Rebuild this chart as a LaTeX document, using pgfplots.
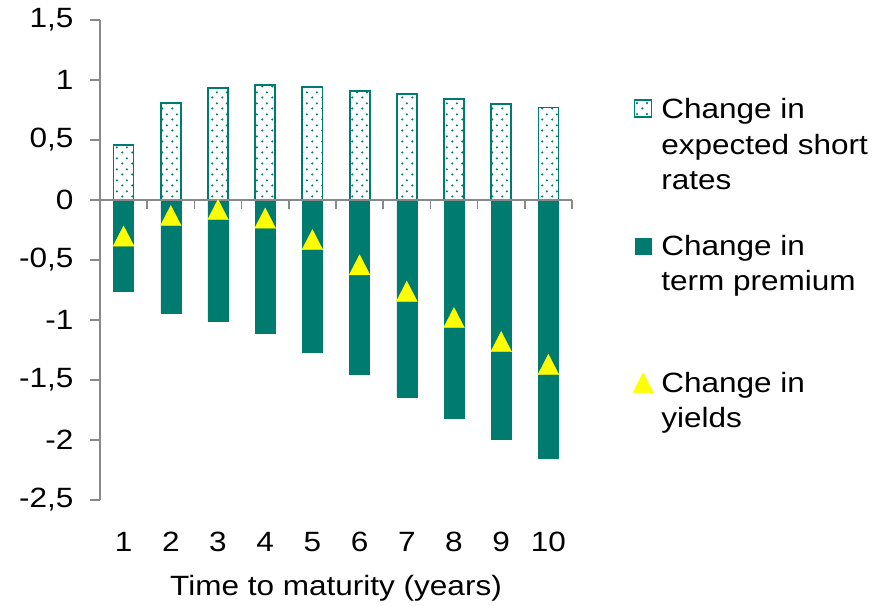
\documentclass[border=0pt]{standalone}
\usepackage{fontspec}
\setmainfont{Liberation Sans}[FakeStretch=1.13]
\usepackage{pgfplots}
\usepackage{pgfplotstable}
\pgfplotsset{compat=1.18}
\usetikzlibrary{patterns.meta}
\definecolor{tealc}{RGB}{0,123,112}
\definecolor{axgray}{RGB}{137,137,137}
\definecolor{yel}{RGB}{255,255,0}
\tikzdeclarepattern{name=tealdots, type=uncolored,
  bounding box={(0bp,0bp) and (10bp,11bp)}, tile size={(10bp,11bp)},
  code={\fill (2.5bp,2.75bp) circle (1.3bp); \fill (7.5bp,8.25bp) circle (1.3bp);}}

\pgfplotstableread{
x short premium yields
1  0.46 -0.76 -0.30
2  0.81 -0.94 -0.13
3  0.93 -1.01 -0.08
4  0.96 -1.11 -0.15
5  0.94 -1.27 -0.33
6  0.91 -1.45 -0.54
7  0.88 -1.64 -0.76
8  0.84 -1.82 -0.98
9  0.80 -1.99 -1.18
10 0.77 -2.15 -1.37
}\datatable

\newcommand{\lblfont}{\fontsize{28}{35.5}\selectfont}

\begin{document}
\begin{tikzpicture}
\useasboundingbox (-100bp,-106bp) rectangle (783bp,500bp);
\begin{axis}[
  at={(0,0)}, anchor=south west,
  scale only axis, width=472bp, height=480bp,
  xmin=0.5, xmax=10.5, ymin=-2.5, ymax=1.5,
  axis x line*=bottom, axis y line*=left,
  x axis line style={draw=none},
  y axis line style={draw=axgray, line width=1.2bp},
  xtick={1,2,3,4,5,6,7,8,9,10},
  x tick style={draw=none},
  y tick style={draw=axgray, line width=1.2bp},
  tick align=outside, major tick length=10bp,
  ytick={-2.5,-2,-1.5,-1,-0.5,0,0.5,1,1.5},
  yticklabels={{-2,5},{-2},{-1,5},{-1},{-0,5},{0},{0,5},{1},{1,5}},
  /pgf/number format/assume math mode=true,
  tick label style={font=\lblfont},
  x tick label style={anchor=base, yshift=-41bp},
  y tick label style={xshift=-13bp},
  xlabel={Time to maturity (years)},
  xlabel style={font=\lblfont, at={(axis description cs:0.5,0)}, anchor=base, yshift=-95bp},
  clip=false,
  legend cell align=left,
  legend style={draw=none, fill=none, font=\lblfont,
    at={(axis description cs:1.129,0.846)}, anchor=north west,
    row sep=110.5bp, column sep=8bp, inner sep=0pt, outer sep=0pt,
    nodes={inner sep=0pt}},
  ybar, bar width=20bp, bar shift=0pt,
]
\addplot[draw=tealc, line width=1.8bp, pattern={tealdots}, pattern color=tealc,
  legend image code/.code={\draw[draw=tealc, line width=1.4bp, pattern={tealdots}, pattern color=tealc] (1.5bp,-10bp) rectangle (18.5bp,7bp);}]
  table[x=x, y=short] {\datatable};
\addlegendentry{\begin{tabular}[t]{@{}l@{}}Change in\\expected short\\rates\end{tabular}}
\addplot[draw=tealc, fill=tealc, line width=0.4bp,
  legend image code/.code={\fill[tealc] (2bp,-10bp) rectangle (18bp,6bp);}]
  table[x=x, y=premium] {\datatable};
\addlegendentry{\begin{tabular}[t]{@{}l@{}}Change in\\term premium\end{tabular}}
\draw[axgray, line width=1.5bp] (axis cs:0.5,0) -- (axis cs:10.5,0)
  (axis cs:1.5,0) -- ([yshift=-9bp]axis cs:1.5,0)
  (axis cs:2.5,0) -- ([yshift=-9bp]axis cs:2.5,0)
  (axis cs:3.5,0) -- ([yshift=-9bp]axis cs:3.5,0)
  (axis cs:4.5,0) -- ([yshift=-9bp]axis cs:4.5,0)
  (axis cs:5.5,0) -- ([yshift=-9bp]axis cs:5.5,0)
  (axis cs:6.5,0) -- ([yshift=-9bp]axis cs:6.5,0)
  (axis cs:7.5,0) -- ([yshift=-9bp]axis cs:7.5,0)
  (axis cs:8.5,0) -- ([yshift=-9bp]axis cs:8.5,0)
  (axis cs:9.5,0) -- ([yshift=-9bp]axis cs:9.5,0)
  (axis cs:10.5,0) -- ([yshift=-9bp]axis cs:10.5,0);
\addplot[only marks, color=yel, mark=triangle*, mark size=12bp,
  mark options={draw=yel, fill=yel, yshift=-3.4bp, yscale=1.12},
  legend image code/.code={\fill[yel] (0bp,-12bp) -- (20bp,-12bp) -- (10bp,8bp) -- cycle;}]
  table[x=x, y=yields] {\datatable};
\addlegendentry{\begin{tabular}[t]{@{}l@{}}Change in\\yields\end{tabular}}
\end{axis}
\end{tikzpicture}
\end{document}
